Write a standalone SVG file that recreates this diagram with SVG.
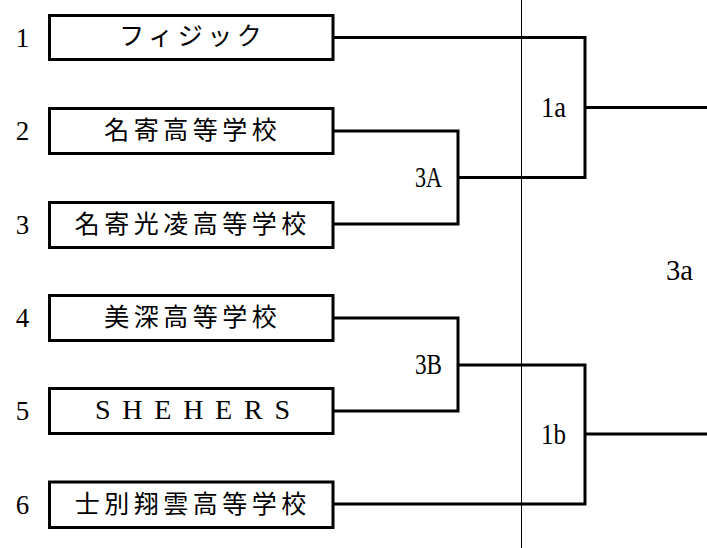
<svg xmlns="http://www.w3.org/2000/svg" width="707" height="548" viewBox="0 0 707 548">
<style>
.box{fill:#fff;stroke:#000;stroke-width:3}
.name{font-family:"Noto Sans CJK JP","Noto Sans CJK SC",sans-serif;font-size:25px;letter-spacing:4.5px;text-anchor:middle;fill:#000}
.latin{font-family:"Liberation Serif",serif;font-size:28px;fill:#000}
.num{font-family:"Liberation Serif",serif;font-size:27px;text-anchor:middle;fill:#000}
.lbl{font-family:"Liberation Serif",serif;font-size:29px;fill:#000}
.wire{fill:none;stroke:#000;stroke-width:3;stroke-linejoin:miter}
</style>
<rect width="707" height="548" fill="#fff"/>
<g id="connectors">
<line x1="521.5" y1="0" x2="521.5" y2="548" stroke="#000" stroke-width="1"/>
<path class="wire" d="M333 37.5 H585 V177.5 H458"/>
<path class="wire" d="M333 131 H458 V224 H333"/>
<path class="wire" d="M585 107.5 H707"/>
<path class="wire" d="M333 318 H458 V411 H333"/>
<path class="wire" d="M458 365 H585 V504 H333"/>
<path class="wire" d="M585 434 H707"/>
</g>
<g id="team1">
<text class="num" x="22.5" y="46.5">1</text>
<rect class="box" x="49.5" y="15.5" width="283.5" height="44"/>
<text class="name" x="192.75" y="45">フィジック</text>
</g>
<g id="team2">
<text class="num" x="22.5" y="139.5">2</text>
<rect class="box" x="49.5" y="108.5" width="283.5" height="45"/>
<text class="name" x="192.75" y="138.5">名寄高等学校</text>
</g>
<g id="team3">
<text class="num" x="22.5" y="233.5">3</text>
<rect class="box" x="49.5" y="202.5" width="283.5" height="45"/>
<text class="name" x="192.75" y="232.5">名寄光凌高等学校</text>
</g>
<g id="team4">
<text class="num" x="22.5" y="326.5">4</text>
<rect class="box" x="49.5" y="295.5" width="283.5" height="45"/>
<text class="name" x="192.75" y="325.5">美深高等学校</text>
</g>
<g id="team5">
<text class="num" x="22.5" y="419.5">5</text>
<rect class="box" x="49.5" y="388.5" width="283.5" height="45"/>
<text class="latin" x="95" y="419" letter-spacing="11.75">SHEHERS</text>
</g>
<g id="team6">
<text class="num" x="22.5" y="513.5">6</text>
<rect class="box" x="49.5" y="482" width="283.5" height="45.5"/>
<text class="name" x="192.75" y="512.5">士別翔雲高等学校</text>
</g>
<g id="match3A"><text class="lbl" x="415" y="187" textLength="27" lengthAdjust="spacingAndGlyphs">3A</text></g>
<g id="match3B"><text class="lbl" x="415" y="374" textLength="27" lengthAdjust="spacingAndGlyphs">3B</text></g>
<g id="match1a"><text class="lbl" x="541" y="117" textLength="25" lengthAdjust="spacingAndGlyphs">1a</text></g>
<g id="match1b"><text class="lbl" x="541" y="443.5" textLength="25" lengthAdjust="spacingAndGlyphs">1b</text></g>
<g id="match3a"><text class="lbl" x="666" y="280" textLength="27" lengthAdjust="spacingAndGlyphs">3a</text></g>
</svg>
